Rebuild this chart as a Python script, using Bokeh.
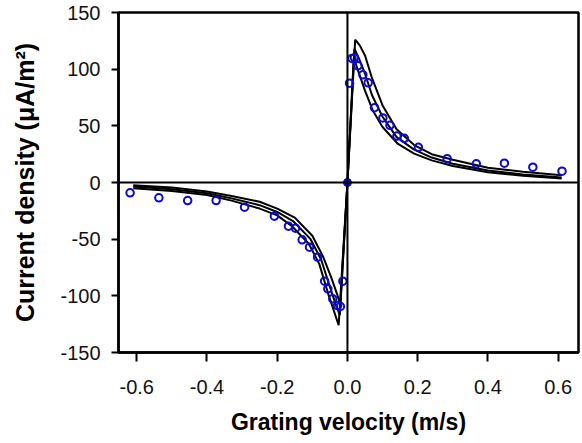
from bokeh.plotting import figure
from bokeh.models import Range1d, FixedTicker, Span
from bokeh.embed import file_html
from bokeh.resources import INLINE

# ---- data ----
x_ticks = [-0.6, -0.4, -0.2, 0.0, 0.2, 0.4, 0.6]
x_tick_labels = ["-0.6", "-0.4", "-0.2", "0.0", "0.2", "0.4", "0.6"]
y_ticks = [-150, -100, -50, 0, 50, 100, 150]
y_tick_labels = ["-150", "-100", "-50", "0", "50", "100", "150"]

# model curves (three simulated traces)
xA = [-0.61, -0.5, -0.4, -0.33, -0.25, -0.2, -0.16, -0.11, -0.08, -0.055, -0.04, -0.025, 0.0,
      0.022, 0.035, 0.05, 0.07, 0.1, 0.14, 0.19, 0.24, 0.3, 0.4, 0.5, 0.61]
yA = [-5, -7.5, -11, -16, -23, -29, -38, -54, -72, -98, -112, -126, 0,
      126, 121, 112, 92, 68, 47, 33, 25, 20, 13, 9.5, 6.5]

xB = [-0.61, -0.5, -0.4, -0.33, -0.25, -0.2, -0.155, -0.105, -0.075, -0.05, -0.035, -0.022, 0.0,
      0.02, 0.032, 0.05, 0.07, 0.1, 0.14, 0.19, 0.24, 0.3, 0.4, 0.5, 0.61]
yB = [-3.5, -6, -9.5, -14, -20, -26, -34, -50, -68, -92, -106, -117, 0,
      118, 110, 96, 77, 58, 40, 29, 22, 16.5, 10.5, 7, 4.5]

xC = [-0.61, -0.5, -0.4, -0.33, -0.25, -0.2, -0.15, -0.1, -0.07, -0.046, -0.03, -0.02, 0.0,
      0.018, 0.03, 0.05, 0.073, 0.1, 0.144, 0.19, 0.24, 0.3, 0.4, 0.5, 0.61]
yC = [-2.5, -4.5, -8, -12, -17, -23, -31, -47, -65, -84, -98, -108, 0,
      110, 99, 81, 63, 49, 34, 25.5, 19.5, 14.5, 9, 6, 3.5]

# measured points (open circles)
x_meas = [-0.619, -0.537, -0.455, -0.374, -0.293, -0.208, -0.168, -0.148, -0.129, -0.108,
          -0.085, -0.065, -0.056, -0.042, -0.028, -0.020, -0.013,
          0.006, 0.013, 0.020, 0.030, 0.044, 0.059, 0.077, 0.101, 0.121, 0.141, 0.162,
          0.202, 0.284, 0.367, 0.447, 0.528, 0.611]
y_meas = [-9.1, -13.5, -15.9, -15.9, -21.8, -29.7, -38.5, -40.3, -50.6, -57.1,
          -65.9, -87.1, -93.8, -102.6, -108.6, -109.4, -87.1,
          87.6, 109.5, 110, 103, 95, 88, 66, 57, 50.5, 41, 39,
          31, 21, 16.5, 17, 13.5, 10]
x_origin = [0.0]
y_origin = [0.0]

p = figure(frame_width=460, frame_height=340,
           x_range=Range1d(-0.652, 0.658), y_range=Range1d(-150, 150),
           output_backend="svg", toolbar_location=None,
           min_border_left=118, min_border_right=4, min_border_top=12, min_border_bottom=88)

p.grid.visible = False
p.outline_line_color = "black"
p.outline_line_width = 2.5
p.background_fill_color = "white"
p.border_fill_color = "white"

# axes
p.xaxis.ticker = FixedTicker(ticks=x_ticks)
p.xaxis.major_label_overrides = {t: l for t, l in zip(x_ticks, x_tick_labels)}
p.yaxis.ticker = FixedTicker(ticks=y_ticks)
p.yaxis.major_label_overrides = {t: l for t, l in zip(y_ticks, y_tick_labels)}
for ax in (p.xaxis, p.yaxis):
    ax.axis_line_width = 2.5
    ax.axis_line_color = "black"
    ax.major_tick_line_width = 2
    ax.major_tick_line_color = "black"
    ax.major_tick_in = 0
    ax.minor_tick_line_color = None
    ax.major_label_text_font = "Liberation Sans"
    ax.major_label_text_font_size = "20px"
    ax.major_label_text_color = "#111111"
    ax.axis_label_text_font = "Liberation Sans"
    ax.axis_label_text_font_style = "bold"
    ax.axis_label_text_color = "black"
p.xaxis.axis_label_text_font_size = "23px"
p.yaxis.axis_label_text_font_size = "25px"
p.xaxis.major_tick_out = 9
p.yaxis.major_tick_out = 7
p.xaxis.major_label_standoff = 18
p.yaxis.major_label_standoff = 11
p.xaxis.axis_label = "Grating velocity (m/s)"
p.yaxis.axis_label = "Current density (μA/m²)"
p.xaxis.axis_label_standoff = 12
p.yaxis.axis_label_standoff = 18

# zero lines
p.add_layout(Span(location=0, dimension="width", line_color="black", line_width=2))
p.add_layout(Span(location=0, dimension="height", line_color="black", line_width=2))

# model curves
for xs, ys in ((xA, yA), (xB, yB), (xC, yC)):
    p.line(xs, ys, line_color="black", line_width=2)

# measurements
p.scatter(x_meas, y_meas, marker="circle", size=7.5, fill_color=None,
          line_color="#0a0ad0", line_width=2)
p.scatter(x_origin, y_origin, marker="circle", size=8, fill_color="#0a0ad0",
          line_color="#0a0ad0", line_width=1)

open("out.html", "w").write(file_html(p, INLINE))
